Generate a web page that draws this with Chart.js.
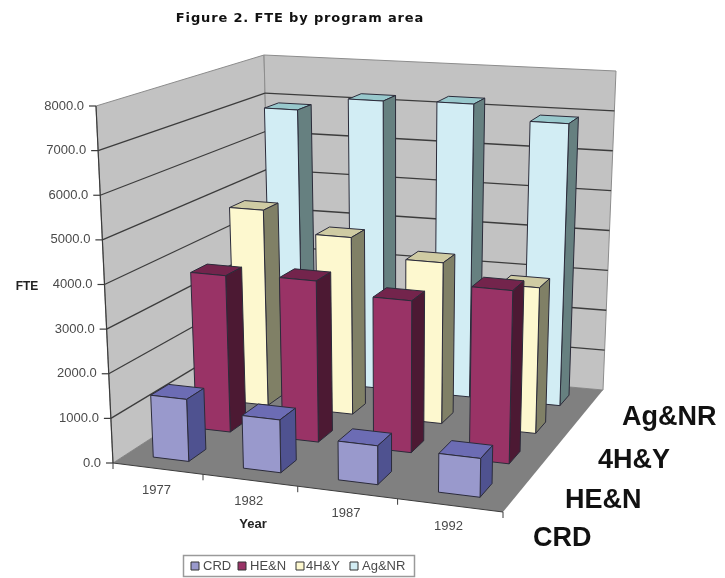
<!DOCTYPE html>
<html>
<head>
<meta charset="utf-8">
<title>FTE by program area</title>
<script src="https://cdn.jsdelivr.net/npm/chart.js@4"></script>
<style>
    html, body { margin: 0; padding: 0; background: #fff; }
    #wrap { position: relative; width: 725px; height: 578px; }
</style>
</head>
<body>
<div id="wrap"><canvas id="fteChart" width="725" height="578"></canvas></div>
<script>
const years = ["1977", "1982", "1987", "1992"];
const seriesNames = ["CRD", "HE&N", "4H&Y", "Ag&NR"];
const crd = [1400, 1180, 860, 850];
const hen = [3675, 3750, 3500, 3950];
const fourH = [4770, 4275, 3850, 3450];
const agNr = [6875, 7225, 7275, 6925];

// front, top, side shades per series
const shades = {
    "CRD": ["#9999cc", "#6c6cb4", "#4f5290"],
    "HE&N": ["#993366", "#73244c", "#4c1933"],
    "4H&Y": ["#fdf8cf", "#cfcba3", "#808066"],
    "Ag&NR": ["#d2edf4", "#98c8cc", "#668080"]
};

// screen position of the eight corners of the plot box
const box = {
    flb: [113, 463], frb: [503, 512], blb: [272, 360], brb: [603, 390],
    flt: [96, 106], frt: [510, 141], blt: [264, 55], brt: [616, 71]
};
// where the series names sit, left edge and middle line
const seriesNameAt = [[533, 539], [565, 501], [598, 461], [622, 418]];
// legend swatch and text columns
const legendSwatchX = [191, 238, 296, 350];
const legendTextX = [203, 250, 306, 362];

const mix = (a, b, t) => [a[0] + (b[0] - a[0]) * t, a[1] + (b[1] - a[1]) * t];
// bars get wider towards the right and thinner towards the back
const foreshorten = (t, w) => t * w / (1 + (w - 1) * t);

function project(u, d, v) {
    const uu = foreshorten(u, 0.9);
    const dd = foreshorten(d, 1.2);
    const bottom = mix(mix(box.flb, box.frb, uu), mix(box.blb, box.brb, uu), dd);
    const top = mix(mix(box.flt, box.frt, uu), mix(box.blt, box.brt, uu), dd);
    return mix(bottom, top, v);
}

function poly(ctx, pts, fill, stroke, lw) {
    ctx.beginPath();
    pts.forEach((p, i) => i ? ctx.lineTo(p[0], p[1]) : ctx.moveTo(p[0], p[1]));
    ctx.closePath();
    if (fill) { ctx.fillStyle = fill; ctx.fill(); }
    if (stroke) { ctx.strokeStyle = stroke; ctx.lineWidth = lw || 1; ctx.stroke(); }
}

function line(ctx, a, b, color, lw) {
    ctx.beginPath();
    ctx.moveTo(a[0], a[1]);
    ctx.lineTo(b[0], b[1]);
    ctx.strokeStyle = color;
    ctx.lineWidth = lw || 1;
    ctx.stroke();
}

function label(ctx, text, x, y, font, color, align) {
    ctx.font = font;
    ctx.fillStyle = color;
    ctx.textAlign = align || "center";
    ctx.textBaseline = "middle";
    ctx.fillText(text, x, y);
}

// bar controller which draws each bar as a block inside the projected box
class Bar3dController extends Chart.BarController {
    draw() {
        const chart = this.chart;
        const ctx = chart.ctx;
        const area = chart.chartArea;
        const depth = chart.scales.depth;
        const meta = this.getMeta();
        const name = seriesNames[this.index];
        const [front, top, side] = shades[name];
        const dc = (depth.getPixelForValue(this.index) - depth.left) / depth.width;
        const halfD = 0.2 / seriesNames.length;

        ctx.save();
        ctx.lineJoin = "round";
        meta.data.forEach(el => {
            const p = el.getProps(["x", "y", "base", "width"], true);
            const u0 = (p.x - p.width / 2 - area.left) / area.width;
            const u1 = (p.x + p.width / 2 - area.left) / area.width;
            const v0 = (area.bottom - p.base) / area.height;
            const v1 = (area.bottom - p.y) / area.height;
            const d0 = dc - halfD, d1 = dc + halfD;
            const edge = "#2b2b3a";
            poly(ctx, [project(u0, d0, v1), project(u1, d0, v1), project(u1, d1, v1), project(u0, d1, v1)], top, edge);
            poly(ctx, [project(u1, d0, v0), project(u1, d1, v0), project(u1, d1, v1), project(u1, d0, v1)], side, edge);
            poly(ctx, [project(u0, d0, v0), project(u1, d0, v0), project(u1, d0, v1), project(u0, d0, v1)], front, edge);
        });
        ctx.restore();
    }
}
Bar3dController.id = "bar3d";
Bar3dController.defaults = Chart.BarController.defaults;
Chart.register(Bar3dController);

const plotBox = {
    id: "plotBox",
    beforeDatasetsDraw(chart) {
        const ctx = chart.ctx;
        const y = chart.scales.y;
        const area = chart.chartArea;
        ctx.save();
        poly(ctx, [box.flb, box.blb, box.blt, box.flt], "#c2c2c2", "#8c8c8c");
        poly(ctx, [box.blb, box.brb, box.brt, box.blt], "#c2c2c2", "#8c8c8c");
        poly(ctx, [box.flb, box.frb, box.brb, box.blb], "#808080");

        y.ticks.forEach(t => {
            const v = (area.bottom - y.getPixelForValue(t.value)) / area.height;
            if (v > 0 && v < 1) {
                line(ctx, project(0, 0, v), project(0, 1, v), "#3c3c3c", 1.3);
                line(ctx, project(0, 1, v), project(1, 1, v), "#3c3c3c", 1.3);
            }
        });
        ctx.restore();
    },
    afterDraw(chart) {
        const ctx = chart.ctx;
        const y = chart.scales.y;
        const x = chart.scales.x;
        const area = chart.chartArea;
        const textCol = "#4a4a4a";
        ctx.save();

        // value axis
        line(ctx, box.flb, box.flt, "#3c3c3c", 1.2);
        y.ticks.forEach(t => {
            const v = (area.bottom - y.getPixelForValue(t.value)) / area.height;
            const p = project(0, 0, v);
            line(ctx, [p[0] - 7, p[1]], p, "#3c3c3c", 1.2);
            label(ctx, t.label, p[0] - 12, p[1], "13px 'Liberation Sans'", textCol, "right");
        });

        // year axis
        line(ctx, box.flb, box.frb, "#3c3c3c", 1);
        for (let i = 0; i <= years.length; i++) {
            const p = project(i / years.length, 0, 0);
            line(ctx, p, [p[0], p[1] + 6], "#3c3c3c", 1);
        }
        years.forEach((yr, i) => {
            const u = (x.getPixelForValue(i) - area.left) / area.width;
            const p = project(u, 0, 0);
            label(ctx, yr, p[0] - 1, p[1] + 21.5, "13px 'Liberation Sans'", textCol);
        });

        seriesNames.forEach((name, i) => {
            label(ctx, name, seriesNameAt[i][0], seriesNameAt[i][1], "bold 27px 'Liberation Sans'", "#111", "left");
        });

        // the title is set wide
        ctx.letterSpacing = "0.85px";
        label(ctx, "Figure 2. FTE by program area", 300, 19, "bold 13px 'DejaVu Sans'", "#111");
        ctx.letterSpacing = "0px";
        label(ctx, "FTE", 27, 287, "bold 12px 'Liberation Sans'", "#222");
        label(ctx, "Year", 253, 524, "bold 13px 'Liberation Sans'", "#222");

        // legend
        poly(ctx, [[183.5, 555.5], [414.5, 555.5], [414.5, 576.5], [183.5, 576.5]], "#fff", "#9a9a9a", 1.5);
        chart.data.datasets.forEach((ds, i) => {
            const sx = legendSwatchX[i];
            poly(ctx, [[sx, 562], [sx + 8, 562], [sx + 8, 570], [sx, 570]], shades[ds.label][0], "#333");
            label(ctx, ds.label, legendTextX[i], 566, "13px 'Liberation Sans'", textCol, "left");
        });
        ctx.restore();
    }
};

new Chart(document.getElementById("fteChart"), {
    type: "bar3d",
    data: {
        labels: years,
        datasets: [
            { label: seriesNames[0], data: crd },
            { label: seriesNames[1], data: hen },
            { label: seriesNames[2], data: fourH },
            { label: seriesNames[3], data: agNr }
        ]
    },
    options: {
        responsive: false,
        animation: false,
        layout: { padding: 20 },
        datasets: { bar3d: { grouped: false, categoryPercentage: 1, barPercentage: 0.4 } },
        scales: {
            x: { type: "category", display: false, offset: true },
            y: {
                type: "linear", display: false, min: 0, max: 8000,
                ticks: { stepSize: 1000, callback: v => v.toFixed(1) }
            },
            depth: { type: "category", axis: "x", display: false, labels: seriesNames, offset: true }
        },
        plugins: { legend: { display: false }, title: { display: false }, tooltip: { enabled: false } }
    },
    plugins: [plotBox]
});
</script>
</body>
</html>
